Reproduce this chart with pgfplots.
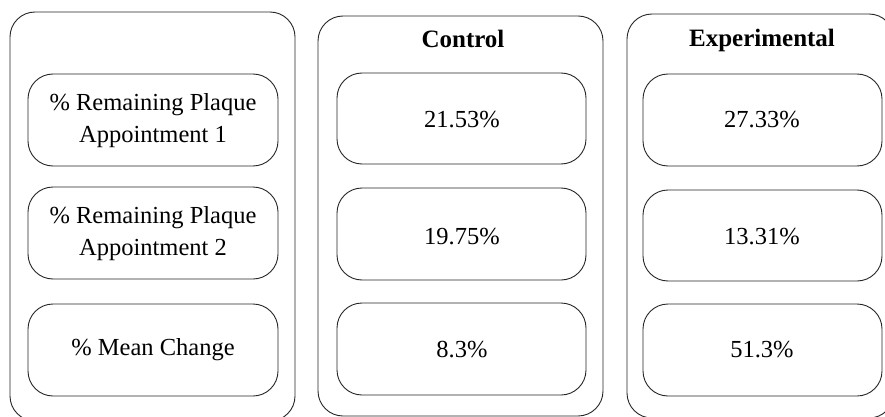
\documentclass[border=0pt]{standalone}
\usepackage{pgfplots}
\pgfplotsset{compat=1.18}
\usepackage{fontspec}
\setmainfont{Liberation Serif}
\newcommand\rbox[4]{%
  \pgfmathsetmacro\xm{(#1+#3)/2}%
  \addplot[boxline] coordinates {(\xm,#2) (#3,#2) (#3,#4) (#1,#4) (#1,#2) (\xm,#2)};}
\begin{document}
\begin{tikzpicture}
\begin{axis}[
  width=885pt, height=417pt, scale only axis,
  xmin=0, xmax=885, ymin=0, ymax=417, y dir=reverse,
  enlargelimits=false, hide axis, clip=true,
  clip bounding box=upper bound,
  boxline/.style={draw=black!85, line width=0.9pt, no marks, rounded corners=25pt},
  txt/.style={only marks, mark=*, mark size=0pt, mark options={draw=none,fill=none},
    nodes near coords, point meta=explicit symbolic,
    nodes near coords align={center},
    every node near coord/.append style={anchor=center, align=center, text=black,
      font=\fontsize{24.5}{32}\selectfont, inner sep=0pt}},
]
% full frame (invisible), fixes the picture's extent
\addplot[draw=none, fill=white, no marks] coordinates {(0,0) (885,0) (885,417) (0,417) (0,0)};
% outer panels
\rbox{10}{12}{295}{421}
\rbox{318}{16}{603}{416}
\rbox{627}{14}{894}{418}
% left column
\rbox{28}{74}{278}{166}
\rbox{28}{187}{278}{279}
\rbox{28}{304}{278}{396}
% control column
\rbox{337}{73}{586}{164}
\rbox{337}{188}{586}{280}
\rbox{337}{303}{586}{395}
% experimental column
\rbox{643}{74}{882}{166}
\rbox{643}{190}{882}{281}
\rbox{643}{304}{882}{396}
% labels
\addplot[txt] coordinates {
  (153,121) [\% Remaining Plaque\\Appointment 1]
  (153,234) [\% Remaining Plaque\\Appointment 2]
  (153,350) [\% Mean Change]
  (462,120) [21.53\%]
  (462,237) [19.75\%]
  (462,350) [8.3\%]
  (762,120) [27.33\%]
  (762,237) [13.31\%]
  (762,350) [51.3\%]
};
\addplot[txt, every node near coord/.append style={font=\fontsize{25}{30}\selectfont\bfseries}] coordinates {
  (463,39) [Control]
  (762,40) [Experimental]
};
\end{axis}
\end{tikzpicture}
\end{document}
